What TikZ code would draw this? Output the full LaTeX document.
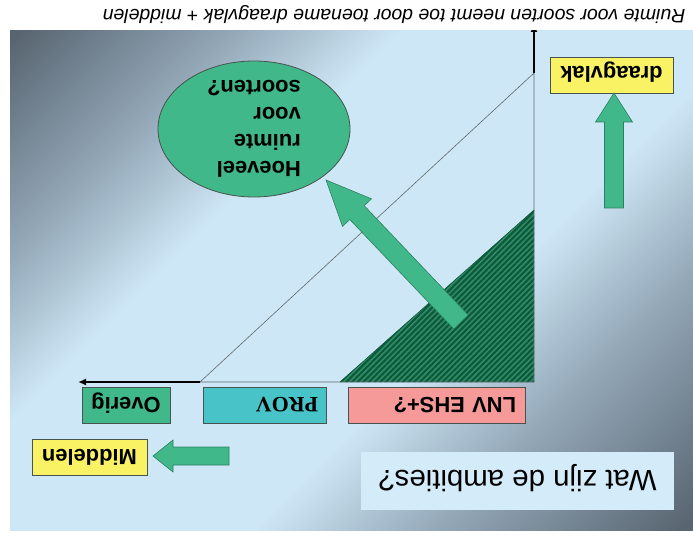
\documentclass[tikz,border=0pt]{standalone}
\usepackage{fontspec}
\setmainfont{Liberation Sans}
\newfontfamily\provfont{Liberation Serif}
\usetikzlibrary{arrows.meta,calc,shapes.geometric,patterns.meta}

\definecolor{slidegreen}{RGB}{64,184,138}
\definecolor{arrowedge}{RGB}{44,128,96}
\definecolor{hatchlight}{RGB}{48,140,102}
\definecolor{hatchdark}{RGB}{12,88,58}
\definecolor{provcyan}{RGB}{72,196,200}
\definecolor{lnvpink}{RGB}{245,153,153}
\definecolor{noteyellow}{RGB}{248,242,100}
\definecolor{titleblue}{RGB}{212,235,250}
\definecolor{boxedge}{RGB}{72,82,78}
\definecolor{axisgray}{RGB}{95,105,110}
\definecolor{bgdark}{RGB}{88,101,113}
\definecolor{bgmid}{RGB}{148,168,184}
\definecolor{bglight}{RGB}{206,231,246}

\pgfdeclarehorizontalshading{slideshade}{100bp}{color(0bp)=(bgdark); color(15bp)=(bgdark); color(28bp)=(bgmid); color(38bp)=(bglight); color(59bp)=(bglight); color(70bp)=(bgmid); color(85bp)=(bgdark); color(100bp)=(bgdark)}

\newcommand\fatarrow[5]{%
	\coordinate (headbase) at ($(#2)!#5!(#1)$);
	\draw[fatarrow] ($(#1)!#3!90:(#2)$) -- ($(headbase)!#3!-90:(#1)$)
		-- ($(headbase)!#4!-90:(#1)$) -- (#2) -- ($(headbase)!#4!90:(#1)$)
		-- ($(headbase)!#3!90:(#1)$) -- ($(#1)!#3!-90:(#2)$) -- cycle;}

\begin{document}
\begin{tikzpicture}[x=1bp, y=-1bp,
		box/.style = {draw=boxedge, line width=0.8bp, rectangle, inner sep=0pt, minimum height=36bp,
			rotate=180, font=\bfseries\fontsize{22}{26}\selectfont, text height=16bp, text depth=0bp},
		fatarrow/.style = {fill=slidegreen, draw=arrowedge, line width=0.6bp},
		axisline/.style = {draw=axisgray, line width=0.6bp},
		axisarrow/.style = {line width=2.2bp, -{Latex[length=8bp,width=7bp]}}]
	\useasboundingbox (0,0) rectangle (693,536);
	\fill[white] (0,0) rectangle (693,536);
	\shade[shading=slideshade, shading angle=-45] (10,31) rectangle (693,530);

	\node[rotate=180, font=\itshape\fontsize{19.5}{22}\selectfont] (caption) at (394,15)
		{Ruimte voor soorten neemt toe door toename draagvlak + middelen};

	\coordinate (origin) at (534,382);
	\coordinate (ybreak) at (534,73);
	\coordinate (ytop) at (534,24);
	\coordinate (xbreak) at (200,382);
	\coordinate (xend) at (78,382);

	\fill[hatchlight] (340,382) -- (origin) -- (534,210) -- cycle;
	\fill[pattern={Lines[angle=45,distance=4bp,line width=2.1bp]}, pattern color=hatchdark]
		(340,382) -- (origin) -- (534,210) -- cycle;
	\draw[hatchdark, line width=0.6bp] (340,382) -- (534,210);

	\draw[axisline] (ybreak) -- (origin) -- (xbreak) -- cycle;
	\draw[axisarrow] (xbreak) -- (xend);
	\begin{scope}
		\clip (10,31) rectangle (693,530);
		\draw[axisarrow] (ybreak) -- (ytop);
	\end{scope}

	\coordinate (bigtail) at (461,322);
	\coordinate (bigtip) at (326,180);
	\fatarrow{bigtail}{bigtip}{10bp}{20bp}{45bp}

	\node[ellipse, draw=boxedge, line width=0.8bp, fill=slidegreen, minimum width=192bp, minimum height=136bp] (vraag) at (254,129) {};
	\node[rotate=180, align=left, font=\bfseries\fontsize{22}{27}\selectfont] (vraagtekst) at (vraag.center)
		{Hoeveel\\ruimte\\voor\\soorten?};

	\node[box, fill=noteyellow, minimum width=123bp] (draagvlak) at (611.5,75) {draagvlak};
	\node[box, fill=lnvpink, text width=159bp, inner xsep=9bp, align=left] (lnv) at (436.5,405) {LNV EHS+?};
	\node[box, fill=provcyan, text width=107bp, inner xsep=8bp, align=left, font=\provfont\bfseries\fontsize{22}{26}\selectfont] (prov) at (264.5,405) {PROV};
	\node[box, fill=slidegreen, minimum width=88bp] (overig) at (126,405) {Overig};
	\node[box, fill=noteyellow, minimum width=115bp] (middelen) at (89.5,457) {Middelen};
	\node[rotate=180, fill=titleblue, minimum width=313bp, minimum height=58bp, inner sep=0pt,
		font=\fontsize{29.5}{33}\selectfont, text height=21bp, text depth=0bp] (ambities) at (517.5,481) {Wat zijn de ambities?};

	\coordinate (uptail) at (614,208);
	\coordinate (uptip) at (614,93);
	\fatarrow{uptail}{uptip}{9.5bp}{18.5bp}{29bp}
	\coordinate (lefttail) at (229,456);
	\coordinate (lefttip) at (153,456);
	\fatarrow{lefttail}{lefttip}{9bp}{16bp}{20bp}
\end{tikzpicture}
\end{document}
